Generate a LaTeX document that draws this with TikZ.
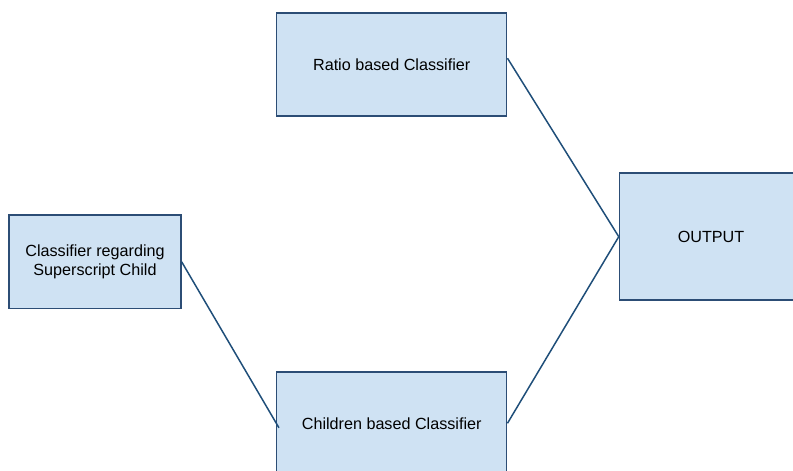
\documentclass[tikz,border=0pt]{standalone}
\usepackage{fontspec}
\setmainfont{Liberation Sans}
\usetikzlibrary{positioning}

\definecolor{boxfill}{HTML}{CFE2F3}
\definecolor{boxline}{HTML}{2C4D75}
\definecolor{linkline}{HTML}{1F4E79}

\begin{document}
\begin{tikzpicture}[x=0.02cm, y=-0.02cm]
            \tikzset{
                classbox/.style={
                    draw=boxline, fill=boxfill, line width=0.85pt,
                    align=center, inner sep=0pt,
                    font=\fontsize{9.2}{10.6}\selectfont
                },
                link/.style={
                    draw=linkline, line width=0.85pt
                }
            }

            % --- Page frame (fixes margins, cuts the boxes at the edges) ---
            \useasboundingbox (0,0) rectangle (793,470);
            \clip (0,0) rectangle (793,470);

            % --- THE CLASSIFIERS ---
            \node[classbox, minimum width=230*0.02cm, minimum height=103*0.02cm]
                (ratio) at (391.7,64.7) {Ratio based Classifier};
            \node[classbox, minimum width=171.7*0.02cm, minimum height=93.3*0.02cm]
                (superchild) at (95,261.7) {Classifier regarding\\Superscript Child};
            \node[classbox, minimum width=230*0.02cm, minimum height=103*0.02cm]
                (children) at (391.7,423.3) {Children based Classifier};

            % --- THE RESULT ---
            \node[classbox, minimum width=183*0.02cm, minimum height=127*0.02cm]
                (output) at (711,236.7) {OUTPUT};

            % --- CONNECTIONS ---
            \draw[link] ([yshift=0.13cm]ratio.east) -- (output.west);
            \draw[link] (children.east) -- (output.west);
            \draw[link] (superchild.east) -- ([xshift=0.06cm, yshift=-0.09cm]children.west);
        \end{tikzpicture}
\end{document}
